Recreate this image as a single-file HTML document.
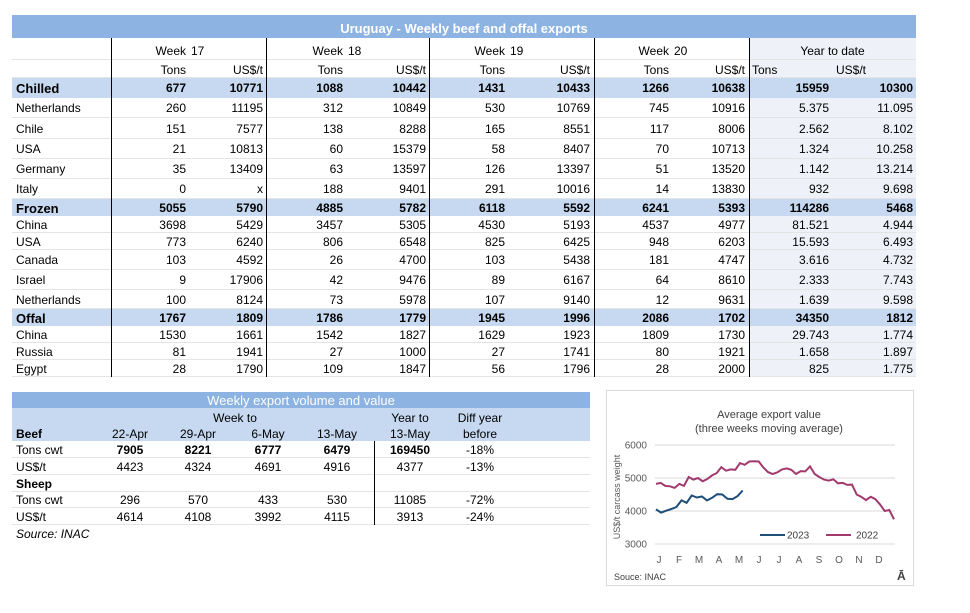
<!DOCTYPE html>
<html><head><meta charset="utf-8"><style>
body{margin:0;width:970px;height:613px;background:#fff;font-family:"Liberation Sans",Arial,sans-serif;font-size:12px;color:#000;position:relative;overflow:hidden}
.a{position:absolute;white-space:nowrap}
.r{position:absolute;text-align:right;white-space:nowrap}
.c{position:absolute;text-align:center;white-space:nowrap}
.b{font-weight:bold}
.vl{position:absolute;width:1px;background:#000}
.hl{position:absolute;height:1px;background:#e4e4e4}
</style></head><body>
<div class="a" style="left:12px;top:15px;width:904px;height:23px;background:#8db3e2"></div>
<div class="c b" style="left:12px;top:21px;width:904px;color:#fff;font-size:13px">Uruguay - Weekly beef and offal exports</div>
<div class="a" style="left:749px;top:38px;width:167px;height:339px;background:#eef1f7"></div>
<div id="t1"></div>
<div class="vl" style="left:111px;top:38px;height:339px"></div>
<div class="vl" style="left:266px;top:38px;height:339px"></div>
<div class="vl" style="left:429px;top:38px;height:339px"></div>
<div class="vl" style="left:594px;top:38px;height:339px"></div>
<div class="vl" style="left:749px;top:38px;height:339px"></div>

<div class="a" style="left:12px;top:392px;width:578px;height:16px;background:#8db3e2"></div>
<div class="a" style="left:12px;top:408px;width:578px;height:33px;background:#c6d9f1"></div>
<div class="c" style="left:12px;top:393px;width:578px;color:#fff;font-size:13px">Weekly export volume and value</div>
<div id="t2"></div>
<div class="vl" style="left:374px;top:441px;height:84px"></div>
<div class="a" style="left:16px;top:527px;font-style:italic">Source: INAC</div>

<div class="a" style="left:606px;top:390px;width:306px;height:194px;border:1px solid #d9d9d9"></div>
<svg class="a" style="left:0;top:0" width="970" height="613" id="ch"></svg>
<script>
function q(h){document.body.insertAdjacentHTML('beforeend',h)}
var rows=[
["Chilled",78,20,1,["677","10771","1088","10442","1431","10433","1266","10638","15959","10300"]],
["Netherlands",98,20,0,["260","11195","312","10849","530","10769","745","10916","5.375","11.095"]],
["Chile",118,21,0,["151","7577","138","8288","165","8551","117","8006","2.562","8.102"]],
["USA",139,20,0,["21","10813","60","15379","58","8407","70","10713","1.324","10.258"]],
["Germany",159,20,0,["35","13409","63","13597","126","13397","51","13520","1.142","13.214"]],
["Italy",179,20,0,["0","x","188","9401","291","10016","14","13830","932","9.698"]],
["Frozen",199,17,1,["5055","5790","4885","5782","6118","5592","6241","5393","114286","5468"]],
["China",216,17,0,["3698","5429","3457","5305","4530","5193","4537","4977","81.521","4.944"]],
["USA",233,17,0,["773","6240","806","6548","825","6425","948","6203","15.593","6.493"]],
["Canada",250,20,0,["103","4592","26","4700","103","5438","181","4747","3.616","4.732"]],
["Israel",270,20,0,["9","17906","42","9476","89","6167","64","8610","2.333","7.743"]],
["Netherlands",290,19,0,["100","8124","73","5978","107","9140","12","9631","1.639","9.598"]],
["Offal",309,17,1,["1767","1809","1786","1779","1945","1996","2086","1702","34350","1812"]],
["China",326,17,0,["1530","1661","1542","1827","1629","1923","1809","1730","29.743","1.774"]],
["Russia",343,17,0,["81","1941","27","1000","27","1741","80","1921","1.658","1.897"]],
["Egypt",360,17,0,["28","1790","109","1847","56","1796","28","2000","825","1.775"]]];
var rx=[186,263,343,426,505,590,669,745,829,913];
var h='';
[["17",186],["18",343],["19",505],["20",669]].forEach(function(w){h+='<div class="r" style="left:'+(w[1]-80)+'px;width:80px;top:44px">Week</div><div class="a" style="left:'+(w[1]+5)+'px;top:44px">'+w[0]+'</div>'});
h+='<div class="c" style="left:749px;width:167px;top:44px">Year to date</div>';
for(var i=0;i<8;i++)h+='<div class="r" style="left:'+(rx[i]-80)+'px;width:80px;top:63px">'+(i%2?'US$/t':'Tons')+'</div>';
h+='<div class="a" style="left:752px;top:63px">Tons</div><div class="a" style="left:836px;top:63px">US$/t</div>';
h+='<div class="hl" style="left:12px;top:59px;width:904px"></div><div class="hl" style="left:12px;top:77px;width:904px"></div>';
rows.forEach(function(r){
 if(r[3])h+='<div class="a" style="left:12px;top:'+r[1]+'px;width:904px;height:'+r[2]+'px;background:#c6d9f1"></div>';
 else h+='<div class="hl" style="left:12px;top:'+(r[1]+r[2]-1)+'px;width:904px"></div>';
 var t=r[1]+(r[2]-14)/2;
 h+='<div class="a'+(r[3]?' b':'')+'" style="left:16px;top:'+t+'px'+(r[3]?';font-size:13px':'')+'">'+r[0]+'</div>';
 r[4].forEach(function(v,i){h+='<div class="r'+(r[3]?' b':'')+'" style="left:'+(rx[i]-90)+'px;width:90px;top:'+t+'px">'+v+'</div>'});
});
document.getElementById('t1').innerHTML=h;
var cx=[130,198,268,337,410,480];h='';
h+='<div class="c" style="left:185px;width:100px;top:411px">Week to</div><div class="c" style="left:360px;width:100px;top:411px">Year to</div><div class="c" style="left:430px;width:100px;top:411px">Diff year</div>';
["22-Apr","29-Apr","6-May","13-May","13-May","before"].forEach(function(v,i){h+='<div class="c" style="left:'+(cx[i]-50)+'px;width:100px;top:427px">'+v+'</div>'});
h+='<div class="a b" style="left:16px;top:427px">Beef</div>';
var r2=[["Tons cwt",441,1,["7905","8221","6777","6479","169450","-18%"]],["US$/t",458,0,["4423","4324","4691","4916","4377","-13%"]],["Sheep",475,2,[]],["Tons cwt",491,0,["296","570","433","530","11085","-72%"]],["US$/t",508,0,["4614","4108","3992","4115","3913","-24%"]]];
r2.forEach(function(r){var t=r[1]+2;h+='<div class="a'+(r[2]==2?' b':'')+'" style="left:16px;top:'+t+'px">'+r[0]+'</div>';
 h+='<div class="hl" style="left:12px;top:'+(r[1]+16)+'px;width:578px"></div>';
 r[3].forEach(function(v,i){h+='<div class="c'+(r[2]==1&&i<5?' b':'')+'" style="left:'+(cx[i]-50)+'px;width:100px;top:'+t+'px">'+v+'</div>'})});
document.getElementById('t2').innerHTML=h;
var s='';function Y(v){return 478-(v-5000)*0.033}
var F=' font-family="Liberation Sans"';
s+='<text x="769" y="418" text-anchor="middle" font-size="11" fill="#404040"'+F+'>Average export  value</text>';
s+='<text x="769" y="432" text-anchor="middle" font-size="11" fill="#404040"'+F+'>(three  weeks moving  average)</text>';
[6000,5000,4000,3000].forEach(function(v){var y=Y(v);s+='<line x1="655" x2="895" y1="'+y+'" y2="'+y+'" stroke="#d9d9d9"/><text x="647" y="'+(y+3.5)+'" text-anchor="end" font-size="10" fill="#595959"'+F+'>'+v+'</text>'});
s+='<text transform="translate(620,497) rotate(-90)" text-anchor="middle" font-size="9" fill="#595959"'+F+'>US$/t carcass weight</text>';
"JFMAMJJASOND".split('').forEach(function(m,i){s+='<text x="'+(659+i*20)+'" y="563" text-anchor="middle" font-size="10" fill="#595959"'+F+'>'+m+'</text>'});
var d22=[4820,4850,4760,4750,4700,4820,4760,5030,4950,5000,4900,4970,5080,5150,5330,5220,5260,5250,5450,5400,5500,5510,5500,5320,5180,5120,5170,5260,5290,5250,5120,5210,5200,5350,5120,5030,4950,4920,4960,4840,4850,4790,4800,4500,4430,4330,4430,4360,4200,4000,4030,3750];
var d23=[4050,3950,4010,4060,4120,4320,4250,4470,4410,4440,4320,4400,4510,4500,4370,4360,4450,4620];
function P(d,st){return d.map(function(v,i){return (656+i*st).toFixed(1)+','+Y(v).toFixed(1)}).join(' ')}
s+='<polyline points="'+P(d22,238/51)+'" fill="none" stroke="#a23a6e" stroke-width="2"/>';
s+='<polyline points="'+P(d23,5.1)+'" fill="none" stroke="#1f4e79" stroke-width="2"/>';
s+='<line x1="760" x2="785" y1="535" y2="535" stroke="#1f4e79" stroke-width="2"/><text x="787" y="538.5" font-size="10" fill="#404040"'+F+'>2023</text>';
s+='<line x1="826" x2="851" y1="535" y2="535" stroke="#a23a6e" stroke-width="2"/><text x="856" y="538.5" font-size="10" fill="#404040"'+F+'>2022</text>';
s+='<text x="614" y="580" font-size="9" fill="#404040"'+F+'>Souce: INAC</text>';
s+='<text x="897" y="580" font-size="12" font-weight="bold" fill="#404040"'+F+'>Ā</text>';
document.getElementById('ch').innerHTML=s;
</script>
</body></html>
